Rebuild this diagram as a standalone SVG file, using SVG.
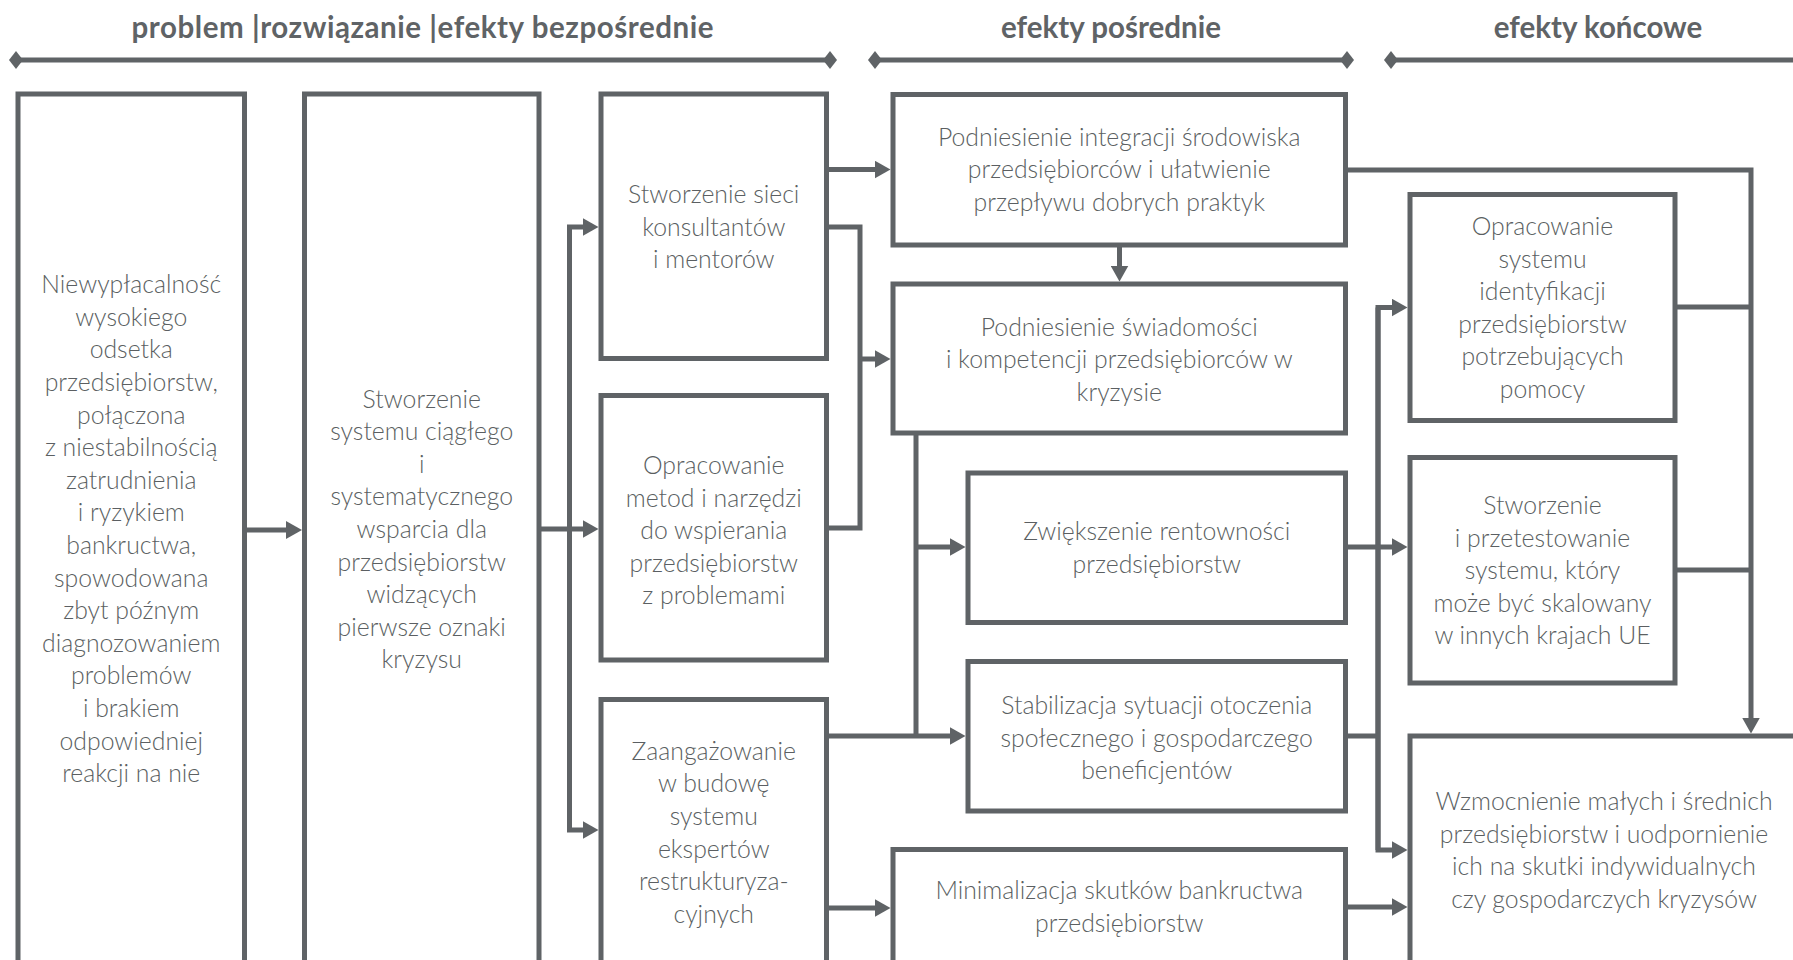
<svg xmlns="http://www.w3.org/2000/svg" width="1793" height="960" viewBox="0 0 1793 960">
<style>
.box{fill:#fff;stroke:#5f6366;stroke-width:5}
.c{fill:none;stroke:#5f6366;stroke-width:5;stroke-linejoin:miter}
.a{marker-end:url(#arr)}
.t{font-family:Lato,"Liberation Sans",sans-serif;font-weight:300;font-size:24.8px;fill:#5b5f62;text-anchor:middle}
.h{font-family:Lato,"Liberation Sans",sans-serif;font-weight:700;font-size:29.5px;fill:#5f6366;text-anchor:middle}
.hl{fill:none;stroke:#5f6366;stroke-width:5;marker-start:url(#dia);marker-end:url(#dia)}
</style>
<defs>
<marker id="arr" markerUnits="userSpaceOnUse" viewBox="0 0 16 18" markerWidth="16" markerHeight="18" refX="1" refY="9" orient="auto"><path d="M0,0 L16,9 L0,18 z" fill="#5f6366"/></marker>
<marker id="dia" markerUnits="userSpaceOnUse" viewBox="0 0 14 18" markerWidth="14" markerHeight="18" refX="7" refY="9" orient="auto"><path d="M0,9 L7,0 L14,9 L7,18 z" fill="#5f6366"/></marker>
</defs>
<rect width="1793" height="960" fill="#fff"/>
<g id="headers">
<text class="h" x="422.5" y="38" textLength="582" lengthAdjust="spacing">problem |rozwiązanie |efekty bezpośrednie</text>
<text class="h" x="1111" y="38">efekty pośrednie</text>
<text class="h" x="1598" y="38">efekty końcowe</text>
<path class="hl" d="M16,60 H830"/>
<path class="hl" d="M875,60 H1347"/>
<path class="hl" d="M1391,60 H1810"/>
</g>
<g id="connectors">
<path class="c a" d="M244.5,530 H287"/>
<path class="c a" d="M539,529 H583.5"/>
<path class="c a" d="M569.5,529 V227 H583.5"/>
<path class="c a" d="M569.5,529 V830 H583.5"/>
<path class="c a" d="M826.5,169.5 H875.5"/>
<path class="c" d="M826.5,227 H860 V528 H826.5"/>
<path class="c a" d="M860,359 H875.5"/>
<path class="c a" d="M1119.5,245 V266.5"/>
<path class="c" d="M916,433 V736"/>
<path class="c a" d="M916,547 H950.5"/>
<path class="c a" d="M826.5,736 H950.5"/>
<path class="c a" d="M826.5,908 H875.5"/>
<path class="c a" d="M1378,850 V307.5 H1392.5"/>
<path class="c a" d="M1378,307.5 V850 H1392.5"/>
<path class="c a" d="M1345.5,547 H1392.5"/>
<path class="c" d="M1345.5,736 H1378"/>
<path class="c a" d="M1345.5,907 H1392.5"/>
<path class="c a" d="M1345.5,170 H1751 V718.5"/>
<path class="c" d="M1675,307 H1751"/>
<path class="c" d="M1675,570 H1751"/>
</g>
<g id="problem">
<rect class="box" x="18" y="94" width="226.5" height="906"/>
<text class="t"><tspan x="131.25" y="293.2">Niewypłacalność</tspan><tspan x="131.25" y="325.8">wysokiego</tspan><tspan x="131.25" y="358.4">odsetka</tspan><tspan x="131.25" y="391">przedsiębiorstw,</tspan><tspan x="131.25" y="423.6">połączona</tspan><tspan x="131.25" y="456.2">z niestabilnością</tspan><tspan x="131.25" y="488.8">zatrudnienia</tspan><tspan x="131.25" y="521.4">i ryzykiem</tspan><tspan x="131.25" y="554">bankructwa,</tspan><tspan x="131.25" y="586.6">spowodowana</tspan><tspan x="131.25" y="619.2">zbyt późnym</tspan><tspan x="131.25" y="651.8">diagnozowaniem</tspan><tspan x="131.25" y="684.4">problemów</tspan><tspan x="131.25" y="717">i brakiem</tspan><tspan x="131.25" y="749.6">odpowiedniej</tspan><tspan x="131.25" y="782.2">reakcji na nie</tspan></text>
</g>
<g id="rozwiazanie">
<rect class="box" x="304.5" y="94" width="234.5" height="906"/>
<text class="t"><tspan x="421.75" y="407.6">Stworzenie</tspan><tspan x="421.75" y="440.2">systemu ciągłego</tspan><tspan x="421.75" y="472.8">i</tspan><tspan x="421.75" y="505.4">systematycznego</tspan><tspan x="421.75" y="538">wsparcia dla</tspan><tspan x="421.75" y="570.6">przedsiębiorstw</tspan><tspan x="421.75" y="603.2">widzących</tspan><tspan x="421.75" y="635.8">pierwsze oznaki</tspan><tspan x="421.75" y="668.4">kryzysu</tspan></text>
</g>
<g id="siec">
<rect class="box" x="601" y="94" width="225.5" height="264.5"/>
<text class="t"><tspan x="713.75" y="203">Stworzenie sieci</tspan><tspan x="713.75" y="235.6">konsultantów</tspan><tspan x="713.75" y="268.2">i mentorów</tspan></text>
</g>
<g id="metody">
<rect class="box" x="601" y="395.5" width="225.5" height="264.5"/>
<text class="t"><tspan x="713.75" y="474">Opracowanie</tspan><tspan x="713.75" y="506.6">metod i narzędzi</tspan><tspan x="713.75" y="539.2">do wspierania</tspan><tspan x="713.75" y="571.8">przedsiębiorstw</tspan><tspan x="713.75" y="604.4">z problemami</tspan></text>
</g>
<g id="eksperci">
<rect class="box" x="601" y="699.5" width="225.5" height="300.5"/>
<text class="t"><tspan x="713.75" y="759.8">Zaangażowanie</tspan><tspan x="713.75" y="792.4">w budowę</tspan><tspan x="713.75" y="825">systemu</tspan><tspan x="713.75" y="857.6">ekspertów</tspan><tspan x="713.75" y="890.2">restrukturyza-</tspan><tspan x="713.75" y="922.8">cyjnych</tspan></text>
</g>
<g id="integracja">
<rect class="box" x="893" y="94.5" width="452.5" height="150.5"/>
<text class="t"><tspan x="1119.25" y="145.7">Podniesienie integracji środowiska</tspan><tspan x="1119.25" y="178.3">przedsiębiorców i ułatwienie</tspan><tspan x="1119.25" y="210.9">przepływu dobrych praktyk</tspan></text>
</g>
<g id="swiadomosc">
<rect class="box" x="893" y="284" width="452.5" height="149"/>
<text class="t"><tspan x="1119.25" y="335.5">Podniesienie świadomości</tspan><tspan x="1119.25" y="368.1">i kompetencji przedsiębiorców w</tspan><tspan x="1119.25" y="400.7">kryzysie</tspan></text>
</g>
<g id="rentownosc">
<rect class="box" x="968" y="473" width="377.5" height="149.5"/>
<text class="t"><tspan x="1156.75" y="540.2">Zwiększenie rentowności</tspan><tspan x="1156.75" y="572.8">przedsiębiorstw</tspan></text>
</g>
<g id="stabilizacja">
<rect class="box" x="968" y="661.5" width="377.5" height="149.5"/>
<text class="t"><tspan x="1156.75" y="714">Stabilizacja sytuacji otoczenia</tspan><tspan x="1156.75" y="746.6">społecznego i gospodarczego</tspan><tspan x="1156.75" y="779.2">beneficjentów</tspan></text>
</g>
<g id="minimalizacja">
<rect class="box" x="893" y="849.5" width="452.5" height="150.5"/>
<text class="t"><tspan x="1119.25" y="899.3">Minimalizacja skutków bankructwa</tspan><tspan x="1119.25" y="931.9">przedsiębiorstw</tspan></text>
</g>
<g id="identyfikacja">
<rect class="box" x="1410" y="194.5" width="265" height="226"/>
<text class="t"><tspan x="1542.5" y="235">Opracowanie</tspan><tspan x="1542.5" y="267.6">systemu</tspan><tspan x="1542.5" y="300.2">identyfikacji</tspan><tspan x="1542.5" y="332.8">przedsiębiorstw</tspan><tspan x="1542.5" y="365.4">potrzebujących</tspan><tspan x="1542.5" y="398">pomocy</tspan></text>
</g>
<g id="skalowanie">
<rect class="box" x="1410" y="457.5" width="265" height="225.5"/>
<text class="t"><tspan x="1542.5" y="514">Stworzenie</tspan><tspan x="1542.5" y="546.6">i przetestowanie</tspan><tspan x="1542.5" y="579.2">systemu, który</tspan><tspan x="1542.5" y="611.8">może być skalowany</tspan><tspan x="1542.5" y="644.4">w innych krajach UE</tspan></text>
</g>
<g id="wzmocnienie">
<rect class="box" x="1410" y="736" width="388" height="264"/>
<text class="t"><tspan x="1604" y="810">Wzmocnienie małych i średnich</tspan><tspan x="1604" y="842.6">przedsiębiorstw i uodpornienie</tspan><tspan x="1604" y="875.2">ich na skutki indywidualnych</tspan><tspan x="1604" y="907.8">czy gospodarczych kryzysów</tspan></text>
</g>
</svg>
